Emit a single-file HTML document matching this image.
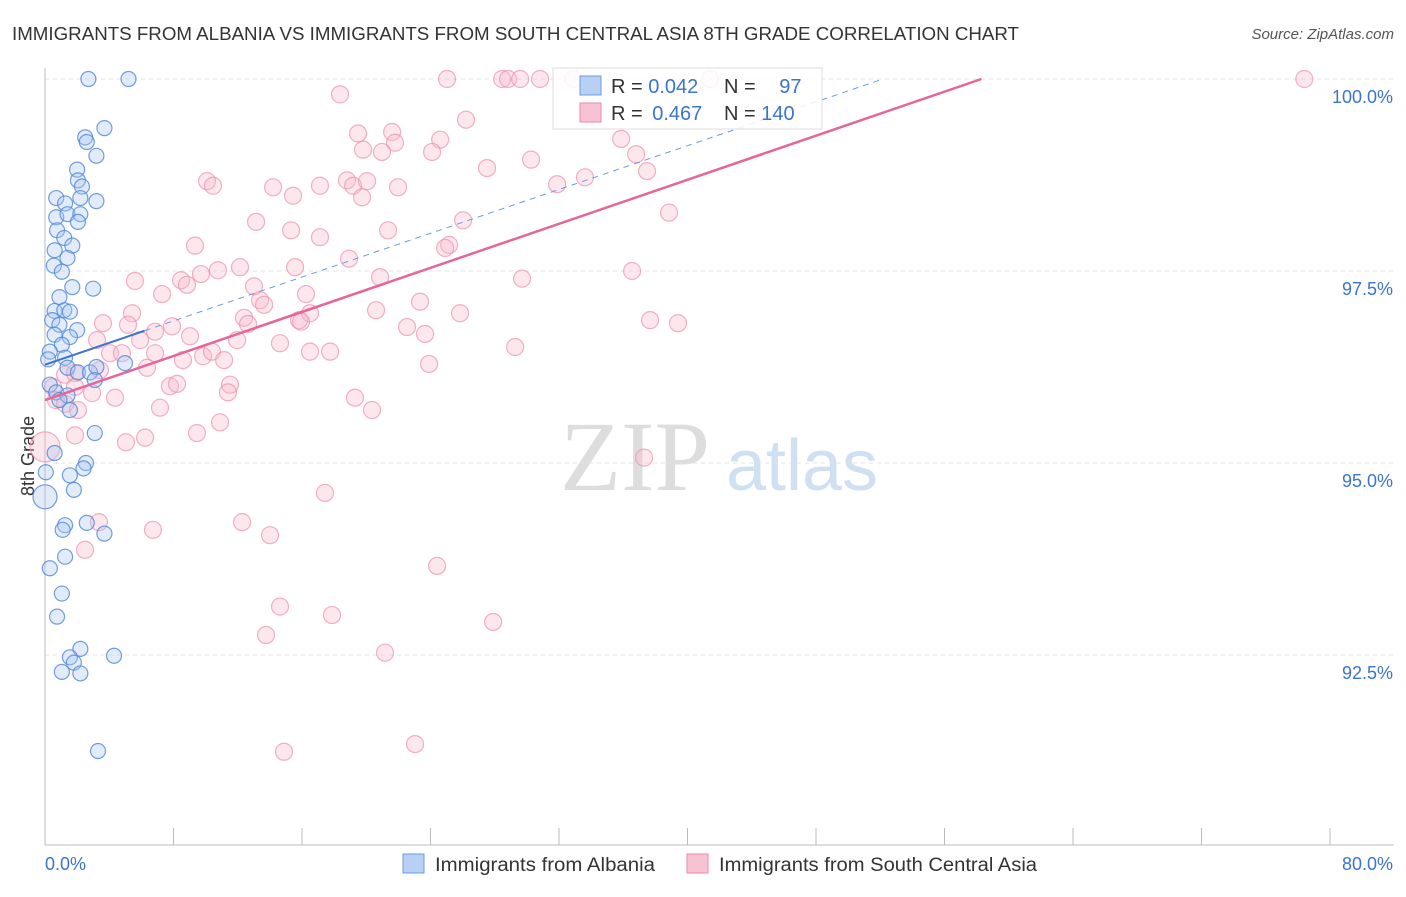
<!DOCTYPE html>
<html><head><meta charset="utf-8">
<style>
body{margin:0;background:#fff;font-family:"Liberation Sans",sans-serif;}
</style></head>
<body>
<svg id="chart" width="1406" height="892" xmlns="http://www.w3.org/2000/svg" font-family="Liberation Sans, sans-serif">
<text x="12" y="40" font-size="18" fill="#333" textLength="1007" lengthAdjust="spacingAndGlyphs">IMMIGRANTS FROM ALBANIA VS IMMIGRANTS FROM SOUTH CENTRAL ASIA 8TH GRADE CORRELATION CHART</text>
<text x="1394" y="39" font-size="15" fill="#555" font-style="italic" text-anchor="end">Source: ZipAtlas.com</text>
<text x="34" y="456" font-size="18" fill="#333" transform="rotate(-90 34 456)" text-anchor="middle">8th Grade</text>
<g>
<text x="635" y="490" font-size="100" fill="#ddd" text-anchor="middle" style="font-family:'Liberation Serif',serif">ZIP</text>
<text x="802" y="490" font-size="72" fill="#cfe0f3" text-anchor="middle">atlas</text>
</g>
<g id="grid"></g><g id="points"></g><g id="trends"></g>
<g>
<rect x="553" y="68" width="269" height="61" fill="#fff" fill-opacity="0.85" stroke="#ddd"/>
<rect x="580" y="76" width="21" height="19" fill="#b7d0f3" stroke="#6a9be0"/>
<rect x="580" y="103" width="21" height="19" fill="#f7c3d3" stroke="#e888a8"/>
<text x="611" y="93" font-size="20" fill="#333">R = <tspan fill="#3b74d0">0.042</tspan></text>
<text x="724" y="93" font-size="20" fill="#333">N = <tspan dx="18" fill="#3b74d0">97</tspan></text>
<text x="611" y="120" font-size="20" fill="#333">R = <tspan fill="#3b74d0" dx="4">0.467</tspan></text>
<text x="724" y="120" font-size="20" fill="#333">N = <tspan fill="#3b74d0">140</tspan></text>
</g>
<g>
<rect x="403" y="854" width="21" height="19" fill="#b7d0f3" stroke="#6a9be0"/>
<text x="435" y="871" font-size="19" fill="#333" textLength="220" lengthAdjust="spacingAndGlyphs">Immigrants from Albania</text>
<rect x="687" y="854" width="21" height="19" fill="#f7c3d3" stroke="#e888a8"/>
<text x="719" y="871" font-size="19" fill="#333" textLength="318" lengthAdjust="spacingAndGlyphs">Immigrants from South Central Asia</text>
</g>
</svg>
<script>
const xTicks=[0,8,16,24,32,40,48,56,64,72,80];
const yTicks=[100,97.5,95,92.5];
const yTickLabels=["100.0%","97.5%","95.0%","92.5%"];
const blueX=[2.7,5.2,3.7,2.5,2.6,3.2,2.0,2.05,2.3,0.7,1.25,2.2,3.2,0.7,1.4,2.2,2.05,0.75,1.2,1.7,0.6,1.4,0.55,1.05,1.7,3.0,0.9,0.6,1.2,1.55,0.45,0.9,2.0,1.55,0.6,1.05,0.3,0.2,1.25,1.4,2.05,2.8,3.2,4.98,3.1,0.3,0.7,1.4,0.9,1.55,3.1,0.6,2.55,2.4,0.05,1.55,1.8,0,2.6,1.25,1.1,3.7,1.25,0.3,1.05,0.75,2.2,1.55,4.3,1.8,1.05,2.2,3.3];
const blueY=[100,100,99.36,99.24,99.18,99.0,98.82,98.68,98.6,98.45,98.38,98.45,98.41,98.2,98.24,98.24,98.14,98.03,97.93,97.83,97.77,97.67,97.57,97.49,97.29,97.27,97.16,96.98,96.99,96.97,96.86,96.8,96.73,96.64,96.67,96.54,96.45,96.35,96.37,96.24,96.18,96.18,96.25,96.3,96.08,96.02,95.92,95.88,95.82,95.69,95.39,95.13,95.0,94.93,94.88,94.84,94.65,94.56,94.22,94.19,94.13,94.08,93.78,93.63,93.3,93.0,92.58,92.47,92.49,92.4,92.28,92.26,91.25];
const pinkX=[25.03,28.46,28.83,29.58,30.82,32.88,41.41,78.4,18.37,26.21,19.49,21.61,19.8,21.79,20.98,24.6,24.1,35.87,36.8,30.26,27.52,37.48,10.09,10.46,14.2,31.88,33.62,15.44,17.12,18.8,19.18,20.05,21.98,19.74,38.85,13.14,15.32,26.03,21.36,17.12,9.34,25.16,24.91,18.93,12.14,15.57,10.77,36.55,20.86,29.7,5.6,8.47,9.71,8.84,13.01,16.25,7.29,13.39,5.42,13.64,23.35,20.61,25.84,3.61,5.17,12.39,12.64,15.82,16.5,15.94,22.54,23.66,37.67,39.41,6.85,7.91,9.03,3.24,5.92,11.96,14.63,29.27,4.05,4.79,6.85,9.84,10.4,16.5,17.75,8.59,11.15,6.35,23.91,1.25,1.87,3.42,7.78,8.22,11.52,11.39,0.5,1.87,2.93,4.36,0.68,1.25,2.05,7.16,19.3,20.36,10.9,9.46,5.04,6.23,1.87,0,37.3,17.43,6.72,12.27,14.01,3.36,2.49,24.41,14.63,17.87,27.9,13.76,21.17,14.88,23.04];
const pinkY=[100,100,100,100,100,100,100,100,99.8,99.47,99.29,99.31,99.08,99.17,99.05,99.21,99.05,99.22,99.02,98.95,98.84,98.8,98.67,98.61,98.59,98.63,98.72,98.48,98.61,98.68,98.61,98.67,98.59,98.46,98.26,98.14,98.03,98.16,98.03,97.94,97.83,97.84,97.8,97.66,97.55,97.55,97.51,97.5,97.42,97.4,97.37,97.38,97.46,97.32,97.3,97.2,97.2,97.12,96.95,97.06,97.1,96.99,96.95,96.82,96.8,96.89,96.81,96.86,96.95,96.84,96.77,96.68,96.86,96.82,96.71,96.78,96.65,96.6,96.6,96.6,96.56,96.51,96.43,96.43,96.43,96.39,96.45,96.45,96.45,96.34,96.34,96.24,96.29,96.15,96.17,96.21,96.0,96.03,96.02,95.92,95.99,95.99,95.91,95.85,95.82,95.77,95.69,95.72,95.85,95.69,95.53,95.39,95.27,95.33,95.36,95.21,95.07,94.61,94.13,94.23,94.06,94.23,93.87,93.66,93.13,93.02,92.93,92.76,92.53,91.24,91.34];
const blueTrend=[96.28,0.0713];
const pinkTrend=[95.82,0.0717];
const X=v=>45+v*(1285/80);
const Y=v=>79+(100-v)*76.8;
const NS="http://www.w3.org/2000/svg";
function mk(tag,attrs,parent){const e=document.createElementNS(NS,tag);for(const k in attrs)e.setAttribute(k,attrs[k]);parent.appendChild(e);return e;}
const grid=document.getElementById('grid');
yTicks.forEach((t,i)=>{
 const l=mk('line',{x1:45,x2:1394,y1:Y(t),y2:Y(t),stroke:'#e3e3e3','stroke-dasharray':'4,4'},grid);
 
 
 const tx=mk('text',{x:1393,y:Y(t)+24,'font-size':18,fill:'#3b74d0','text-anchor':'end'},grid);
 tx.textContent=yTickLabels[i];
 
 
});
const ax=mk('line',{x1:45,x2:45,y1:68,y2:845,stroke:'#bbb'},grid);


const bx=mk('line',{x1:45,x2:1394,y1:845,y2:845,stroke:'#bbb'},grid);


xTicks.forEach(t=>{const l=mk('line',{x1:X(t),x2:X(t),y1:828,y2:845,stroke:'#bbb'},grid);
 
 });
const xl0=mk('text',{x:45,y:870,'font-size':18,fill:'#3b74d0','text-anchor':'start'},grid);xl0.textContent=xTicks[0].toFixed(1)+'%';


const xl1=mk('text',{x:1393,y:870,'font-size':18,fill:'#3b74d0','text-anchor':'end'},grid);xl1.textContent=xTicks[xTicks.length-1].toFixed(1)+'%';


const pts=document.getElementById('points');
pinkX.forEach((v,i)=>{const c=mk('circle',{cx:X(v),cy:Y(pinkY[i]),r:(v===0?15:8.5),fill:'#f7b9cc','fill-opacity':0.35,stroke:'#ec8fae','stroke-opacity':0.7,'stroke-width':1.2},pts);
 
 });
blueX.forEach((v,i)=>{const c=mk('circle',{cx:X(v),cy:Y(blueY[i]),r:(v===0?12:7.5),fill:'#a9c6f0','fill-opacity':0.35,stroke:'#4f86d8','stroke-opacity':0.8,'stroke-width':1.2},pts);
 
 });
const tr=document.getElementById('trends');
const bEnd=(100-blueTrend[0])/blueTrend[1];
const t1=mk('line',{x1:X(0),y1:Y(blueTrend[0]),x2:X(6.2),y2:Y(blueTrend[0]+6.2*blueTrend[1]),stroke:'#3b74d0','stroke-width':2},tr);


const t2=mk('line',{x1:X(6.2),y1:Y(blueTrend[0]+6.2*blueTrend[1]),x2:X(bEnd),y2:Y(100),stroke:'#6a9be0','stroke-width':1,'stroke-dasharray':'6,5'},tr);


const pEnd=(100-pinkTrend[0])/pinkTrend[1];
const t3=mk('line',{x1:X(0),y1:Y(pinkTrend[0]),x2:X(pEnd),y2:Y(100),stroke:'#e4669a','stroke-width':2.5},tr);


</script>
</body></html>
